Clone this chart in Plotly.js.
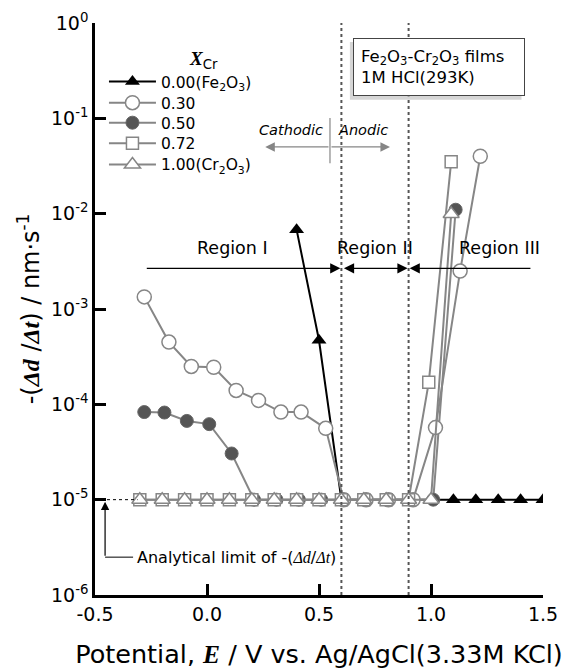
<!DOCTYPE html>
<html>
<head>
<meta charset="utf-8">
<script src="https://cdn.plot.ly/plotly-3.0.1.min.js"></script>
<style>html,body{margin:0;padding:0;background:#fff;}#chart{width:573px;height:669px;}</style>
</head>
<body>
<div id="chart"></div>
<script>
// ---- data ----
const seriesNames = ['0.00(Fe<sub>2</sub>O<sub>3</sub>)', '0.30', '0.50', '0.72', '1.00(Cr<sub>2</sub>O<sub>3</sub>)'];

const fe_E = [0.40, 0.50, 0.60, 0.70, 0.80, 0.90, 1.00, 1.10, 1.20, 1.30, 1.40, 1.50];
const fe_V = [6.8e-3, 4.7e-4, 1e-5, 1e-5, 1e-5, 1e-5, 1e-5, 1e-5, 1e-5, 1e-5, 1e-5, 1e-5];

const x30_E = [-0.28, -0.17, -0.07, 0.03, 0.13, 0.23, 0.33, 0.42, 0.53, 0.61, 0.71, 0.81, 0.92, 1.02, 1.13, 1.22];
const x30_V = [1.34e-3, 4.5e-4, 2.5e-4, 2.45e-4, 1.4e-4, 1.1e-4, 8.3e-5, 8.3e-5, 5.6e-5, 1e-5, 1e-5, 1e-5, 1e-5, 5.7e-5, 2.5e-3, 4.0e-2];

const x50_E = [-0.28, -0.19, -0.09, 0.01, 0.11, 0.21, 0.31, 0.41, 0.51, 0.61, 0.71, 0.81, 0.91, 1.01, 1.11];
const x50_V = [8.3e-5, 8.2e-5, 6.7e-5, 6.2e-5, 3.05e-5, 1e-5, 1e-5, 1e-5, 1e-5, 1e-5, 1e-5, 1e-5, 1e-5, 1e-5, 1.1e-2];

const x72_E = [-0.30, -0.20, -0.10, 0.00, 0.10, 0.20, 0.30, 0.40, 0.50, 0.60, 0.70, 0.80, 0.90, 0.99, 1.09];
const x72_V = [1e-5, 1e-5, 1e-5, 1e-5, 1e-5, 1e-5, 1e-5, 1e-5, 1e-5, 1e-5, 1e-5, 1e-5, 1e-5, 1.7e-4, 3.5e-2];

const x100_E = [-0.30, -0.20, -0.10, 0.00, 0.10, 0.20, 0.30, 0.40, 0.50, 0.60, 0.70, 0.80, 0.90, 1.00, 1.09];
const x100_V = [1e-5, 1e-5, 1e-5, 1e-5, 1e-5, 1e-5, 1e-5, 1e-5, 1e-5, 1e-5, 1e-5, 1e-5, 1e-5, 1e-5, 9.9e-3];

const xTickVals = [-0.5, 0.0, 0.5, 1.0, 1.5];
const xTickText = ['-0.5', '0.0', '0.5', '1.0', '1.5'];
const yTickVals = [1e-6, 1e-5, 1e-4, 1e-3, 1e-2, 1e-1, 1];
const yTickText = ['10<sup>-6</sup>', '10<sup>-5</sup>', '10<sup>-4</sup>', '10<sup>-3</sup>', '10<sup>-2</sup>', '10<sup>-1</sup>', '10<sup>0</sup>'];

// minor tick positions (axis furniture)
const xMinor = [];
for (let i = -5; i <= 15; i++) xMinor.push(i / 10);
const yMinor = [];
for (let d = -6; d < 0; d++) for (let m = 2; m <= 9; m++) yMinor.push(m * Math.pow(10, d));

// legend row centres (paper y), one legend per series
const legendRows = [0.897, 0.860, 0.825, 0.789, 0.752];

// ---- styling ----
const SANS = 'DejaVu Sans, Arial, sans-serif';
const GREY = '#868686';
const LEG_FONT = {family: SANS, size: 15.5, color: 'black'};

function legendBox(yv) {
  return {x: 0.02, y: yv, xanchor: 'left', yanchor: 'middle', bgcolor: 'rgba(0,0,0,0)',
    font: LEG_FONT, itemwidth: 47, borderwidth: 0};
}

const traces = [
  {x: fe_E, y: fe_V, name: seriesNames[0], legend: 'legend', mode: 'lines+markers',
   line: {color: 'black', width: 2}, marker: {symbol: 'triangle-up', size: 13, color: 'black'}},
  {x: x50_E, y: x50_V, name: seriesNames[2], legend: 'legend3', mode: 'lines+markers',
   line: {color: GREY, width: 2}, marker: {symbol: 'circle', size: 13, color: '#555', line: {color: '#666', width: 1}}},
  {x: x30_E, y: x30_V, name: seriesNames[1], legend: 'legend2', mode: 'lines+markers',
   line: {color: GREY, width: 2}, marker: {symbol: 'circle', size: 14, color: 'white', line: {color: GREY, width: 1.5}}},
  {x: x72_E, y: x72_V, name: seriesNames[3], legend: 'legend4', mode: 'lines+markers',
   line: {color: GREY, width: 2}, marker: {symbol: 'square', size: 12, color: 'white', line: {color: GREY, width: 1.5}}},
  {x: x100_E, y: x100_V, name: seriesNames[4], legend: 'legend5', mode: 'lines+markers',
   line: {color: GREY, width: 2}, marker: {symbol: 'triangle-up', size: 14, color: 'white', line: {color: GREY, width: 1.5}}}
];

function regionArrow(head, tail, yv, both) {
  return {x: head, y: yv, ax: tail, ay: yv, xref: 'x', yref: 'y', axref: 'x', ayref: 'y',
    text: '', showarrow: true, arrowhead: 2, arrowsize: 1.7, arrowwidth: 1.2, arrowcolor: 'black',
    arrowside: both ? 'end+start' : 'end', standoff: 1, startstandoff: 1};
}
const yReg = Math.log10(2.67e-3);
const yCA = -1.30;
const SERIF_SPAN = '<span style="font-family:Liberation Serif">';

// overlay axes that carry only ticks (top/right and minor)
function tickAxisX(side, vals, len, w) {
  return {overlaying: 'x', anchor: 'y', side: side, range: [-0.5, 1.5], tickvals: vals,
    ticks: 'inside', ticklen: len, tickwidth: w, tickcolor: 'black', showticklabels: false,
    showline: true, linewidth: 2.5, linecolor: 'black', showgrid: false, zeroline: false};
}
function tickAxisY(side, vals, len, w) {
  return {type: 'log', overlaying: 'y', anchor: 'x', side: side, range: [-6, 0], tickvals: vals,
    ticks: 'inside', ticklen: len, tickwidth: w, tickcolor: 'black', showticklabels: false,
    showline: true, linewidth: 2.5, linecolor: 'black', showgrid: false, zeroline: false};
}

const layout = {
  width: 573, height: 669,
  margin: {l: 95, r: 30, t: 23, b: 74},
  font: {family: SANS, color: 'black', size: 19},
  showlegend: true,
  legend: legendBox(legendRows[0]),
  legend2: legendBox(legendRows[1]),
  legend3: legendBox(legendRows[2]),
  legend4: legendBox(legendRows[3]),
  legend5: legendBox(legendRows[4]),
  xaxis: {range: [-0.5, 1.5], tickvals: xTickVals, ticktext: xTickText,
    ticks: 'inside', ticklen: 11, tickwidth: 3, tickcolor: 'black',
    showline: true, linewidth: 2.5, linecolor: 'black', showgrid: false, zeroline: false,
    title: {text: 'Potential, <b><i>' + SERIF_SPAN + 'E</span></i></b> / V vs. Ag/AgCl(3.33M KCl)',
      font: {family: SANS, size: 25.5}, standoff: 22}},
  yaxis: {type: 'log', range: [-6, 0], tickvals: yTickVals, ticktext: yTickText,
    ticks: 'inside', ticklen: 11, tickwidth: 3, tickcolor: 'black',
    showline: true, linewidth: 2.5, linecolor: 'black', showgrid: false, zeroline: false,
    title: {text: '-(<b><i>' + SERIF_SPAN + 'Δd</span></i></b> /<b><i>' + SERIF_SPAN + 'Δt</span></i></b>) / nm·s<sup>-1</sup>',
      font: {family: SANS, size: 24}, standoff: 5}},
  xaxis2: tickAxisX('top', xTickVals, 11, 3),
  xaxis3: tickAxisX('bottom', xMinor, 6, 2.5),
  xaxis4: tickAxisX('top', xMinor, 6, 2.5),
  yaxis2: tickAxisY('right', yTickVals, 11, 3),
  yaxis3: tickAxisY('left', yMinor, 6, 2.5),
  yaxis4: tickAxisY('right', yMinor, 6, 2.5),
  shapes: [
    {type: 'line', xref: 'x', yref: 'paper', x0: 0.6, x1: 0.6, y0: 0, y1: 1, line: {color: '#555', width: 2, dash: 'dot'}},
    {type: 'line', xref: 'x', yref: 'paper', x0: 0.9, x1: 0.9, y0: 0, y1: 1, line: {color: '#555', width: 2, dash: 'dot'}},
    {type: 'line', xref: 'x', yref: 'y', x0: -0.5, x1: -0.31, y0: 1e-5, y1: 1e-5, line: {color: 'black', width: 1, dash: 'dot'}},
    {type: 'line', xref: 'x', yref: 'y', x0: 0.549, x1: 0.549, y0: Math.pow(10, -0.997), y1: Math.pow(10, -1.47), line: {color: GREY, width: 1.2}},
    {type: 'line', xref: 'x', yref: 'y', x0: -0.455, x1: -0.33, y0: Math.pow(10, -5.603), y1: Math.pow(10, -5.603), line: {color: 'black', width: 1}},
    {type: 'rect', xref: 'paper', yref: 'paper', x0: 0.569, x1: 0.952, y0: 0.866, y1: 0.967, fillcolor: '#c4c4c4', line: {width: 0}, opacity: 0.7, layer: 'above'}
  ],
  annotations: [
    {xref: 'paper', yref: 'y', x: 0.205, y: -0.39, text: '<b><i>' + SERIF_SPAN + 'X</span></i></b><sub>Cr</sub>',
      showarrow: false, font: {family: SANS, size: 19}},
    {xref: 'paper', yref: 'paper', x: 0.576, y: 0.974, xanchor: 'left', yanchor: 'top', align: 'left', valign: 'middle',
      text: 'Fe<sub>2</sub>O<sub>3</sub>-Cr<sub>2</sub>O<sub>3</sub> films<br>1M HCl(293K)',
      showarrow: false, font: {family: SANS, size: 16.5}, bordercolor: '#444', borderwidth: 1, borderpad: 7,
      bgcolor: 'white', width: 156, height: 42},
    {x: 0.527, y: -1.123, xref: 'x', yref: 'y', xanchor: 'right', text: '<i>Cathodic</i>', showarrow: false, font: {size: 14.5}},
    {x: 0.575, y: -1.123, xref: 'x', yref: 'y', xanchor: 'left', text: '<i>Anodic</i>', showarrow: false, font: {size: 14.5}},
    {x: 0.26, y: yCA, ax: 0.549, ay: yCA, xref: 'x', yref: 'y', axref: 'x', ayref: 'y', text: '', showarrow: true,
      arrowhead: 2, arrowsize: 1.6, arrowwidth: 1.2, arrowcolor: GREY, standoff: 0},
    {x: 0.817, y: yCA, ax: 0.549, ay: yCA, xref: 'x', yref: 'y', axref: 'x', ayref: 'y', text: '', showarrow: true,
      arrowhead: 2, arrowsize: 1.6, arrowwidth: 1.2, arrowcolor: GREY, standoff: 0},
    regionArrow(0.6, -0.28, yReg, false),
    regionArrow(0.9, 0.6, yReg, true),
    regionArrow(0.9, 1.455, yReg, false),
    {x: 0.116, y: -2.36, xref: 'x', yref: 'y', text: 'Region I', showarrow: false, font: {size: 17.5}},
    {x: 0.75, y: -2.36, xref: 'x', yref: 'y', text: 'Region II', showarrow: false, font: {size: 17.5}},
    {x: 1.305, y: -2.36, xref: 'x', yref: 'y', text: 'Region III', showarrow: false, font: {size: 17.5}},
    {x: -0.455, y: -5.0, ax: -0.455, ay: -5.603, xref: 'x', yref: 'y', axref: 'x', ayref: 'y', text: '', showarrow: true,
      arrowhead: 2, arrowsize: 1.4, arrowwidth: 1.2, arrowcolor: 'black', standoff: 2},
    {x: -0.32, y: -5.603, xref: 'x', yref: 'y', xanchor: 'left',
      text: 'Analytical limit of -(<i>' + SERIF_SPAN + 'Δd</span></i>/<i>' + SERIF_SPAN + 'Δt</span></i>)',
      showarrow: false, font: {size: 16}}
  ]
};

Plotly.newPlot('chart', traces, layout, {displayModeBar: false});
</script>
</body>
</html>
